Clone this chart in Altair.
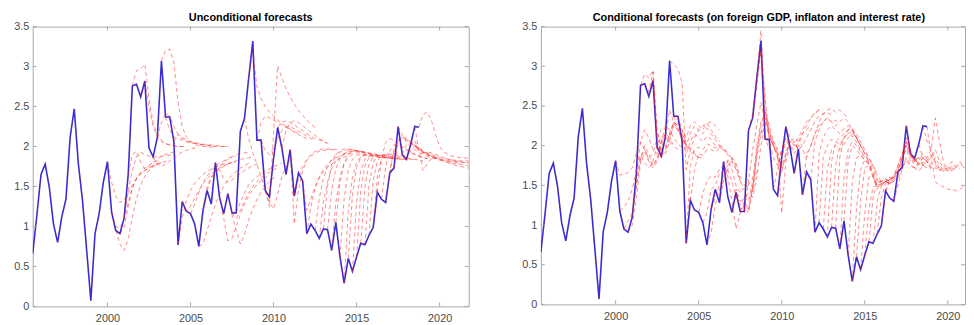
import altair as alt
import pandas as pd

START = 1995.5  # first quarter shown (1995 Q3)

# observed series, quarterly from 1995.5
actual = [0.66, 1.14, 1.65, 1.78, 1.49, 1.03, 0.80, 1.12, 1.34, 2.11,
          2.47, 1.78, 1.32, 0.70, 0.07, 0.91, 1.16, 1.55, 1.81, 1.18,
          0.95, 0.91, 1.10, 1.65, 2.76, 2.78, 2.62, 2.82, 1.98, 1.87,
          2.11, 3.07, 2.37, 2.37, 2.06, 0.77, 1.31, 1.19, 1.16, 1.03,
          0.75, 1.20, 1.45, 1.28, 1.80, 1.36, 1.16, 1.41, 1.17, 1.17,
          2.19, 2.35, 2.85, 3.32, 2.08, 2.08, 1.45, 1.37, 1.85, 2.24,
          1.98, 1.65, 1.96, 1.38, 1.67, 1.57, 0.91, 1.03, 0.95, 0.85,
          0.97, 0.96, 0.70, 1.05, 0.62, 0.29, 0.60, 0.44, 0.62, 0.79,
          0.77, 0.89, 0.99, 1.43, 1.34, 1.30, 1.67, 1.73, 2.25, 1.90,
          1.84, 2.02, 2.25, 2.24]

# unconditional forecasts: origin quarter index -> path (quarterly)
unc = {
    18: [1.81, 1.55, 1.38, 1.30, 1.33, 1.42, 1.52, 1.60, 1.66, 1.70, 1.73, 1.76, 1.78],
    19: [1.18, 1.00, 0.98, 1.10, 1.30, 1.48, 1.60, 1.68, 1.73, 1.77, 1.80, 1.82, 1.83],
    20: [0.95, 0.78, 0.70, 0.85, 1.12, 1.35, 1.52, 1.63, 1.70, 1.75, 1.78, 1.80, 1.82],
    21: [0.91, 0.98, 1.25, 1.48, 1.60, 1.66, 1.70, 1.73, 1.76, 1.78, 1.80, 1.81],
    22: [1.10, 1.45, 1.70, 1.88, 1.93, 1.90, 1.88, 1.87, 1.87, 1.88, 1.88, 1.89, 1.90],
    23: [1.65, 1.90, 1.94, 1.80, 1.72, 1.75, 1.80, 1.84, 1.88, 1.90, 1.92, 1.93],
    24: [2.76, 2.95, 2.97, 3.03, 2.60, 2.30, 2.15, 2.08, 2.04, 2.02, 2.01, 2.00, 2.00],
    26: [2.62, 2.80, 2.50, 2.25, 2.12, 2.06, 2.03, 2.02, 2.01, 2.00, 2.00, 2.00],
    29: [1.87, 1.78, 1.75, 1.78, 1.82, 1.86, 1.90, 1.93, 1.95, 1.97, 1.98, 1.99],
    30: [2.11, 2.30, 2.42, 2.38, 2.25, 2.15, 2.10, 2.07, 2.05, 2.04, 2.03, 2.02, 2.02, 2.01, 2.00],
    31: [3.07, 3.20, 3.22, 3.05, 2.55, 2.25, 2.12, 2.06, 2.03, 2.01, 2.00, 2.00, 1.99, 1.99],
    32: [2.37, 2.20, 2.12, 2.10, 2.08, 2.06, 2.05, 2.04, 2.03, 2.02, 2.01, 2.01, 2.00, 2.00, 2.00, 2.00],
    34: [2.06, 2.15, 2.12, 2.08, 2.06, 2.05, 2.04, 2.03, 2.02, 2.02, 2.01, 2.01, 2.00, 2.00],
    35: [0.77, 1.10, 1.32, 1.45, 1.54, 1.60, 1.65, 1.69, 1.72, 1.74, 1.76, 1.78, 1.79, 1.80, 1.81],
    36: [1.31, 1.20, 1.25, 1.35, 1.45, 1.53, 1.60, 1.65, 1.70, 1.73, 1.76, 1.78, 1.80],
    38: [1.16, 1.28, 1.42, 1.55, 1.63, 1.70, 1.75, 1.79, 1.82, 1.85, 1.87, 1.88],
    40: [0.75, 0.78, 0.95, 1.12, 1.28, 1.40, 1.50, 1.58, 1.64, 1.69, 1.73, 1.76, 1.79],
    41: [1.20, 1.50, 1.62, 1.68, 1.75, 1.80, 1.84, 1.87, 1.90, 1.91, 1.92, 1.93],
    42: [1.45, 1.60, 1.68, 1.72, 1.75, 1.78, 1.80, 1.82, 1.84, 1.85, 1.86, 1.87],
    44: [1.80, 1.70, 1.60, 1.55, 1.58, 1.62, 1.66, 1.70, 1.73, 1.76, 1.78, 1.80],
    45: [1.36, 1.10, 0.82, 0.85, 1.00, 1.15, 1.28, 1.38, 1.46, 1.52, 1.57, 1.61, 1.64],
    47: [1.41, 1.15, 0.95, 0.78, 0.90, 1.08, 1.22, 1.34, 1.43, 1.50, 1.56, 1.60, 1.64],
    48: [1.17, 1.10, 1.20, 1.32, 1.42, 1.50, 1.56, 1.61, 1.65, 1.68, 1.71, 1.73],
    49: [1.17, 1.30, 1.42, 1.52, 1.58, 1.62, 1.66, 1.69, 1.72, 1.75, 1.77, 1.79],
    51: [2.35, 2.10, 1.92, 1.78, 1.62, 1.45, 1.30, 1.22, 1.40, 1.62, 1.75, 1.82, 1.86],
    52: [2.85, 3.20, 2.75, 2.60, 2.50, 2.43, 2.38, 2.33, 2.29, 2.25, 2.22, 2.19, 2.16],
    54: [2.08, 2.30, 2.38, 2.36, 2.33, 2.30, 2.27, 2.24, 2.21, 2.18, 2.15, 2.12, 2.10],
    55: [2.08, 1.95, 1.90, 1.98, 2.10, 2.20, 2.25, 2.25, 2.22, 2.19, 2.16, 2.13, 2.10, 2.08],
    56: [1.45, 1.24, 2.15, 3.01, 2.86, 2.73, 2.62, 2.53, 2.45, 2.39, 2.33, 2.28, 2.24],
    59: [2.24, 2.30, 2.32, 2.30, 2.27, 2.23, 2.20, 2.16, 2.13, 2.10, 2.08, 2.06, 2.04],
    60: [1.98, 2.20, 2.30, 2.32, 2.30, 2.26, 2.22, 2.18, 2.14, 2.10, 2.07, 2.04],
    62: [1.96, 1.03, 1.45, 1.70, 1.82, 1.88, 1.92, 1.94, 1.95, 1.96, 1.96, 1.96],
    63: [1.38, 1.60, 1.75, 1.84, 1.90, 1.94, 1.96, 1.97, 1.97, 1.97, 1.96, 1.96],
    65: [1.57, 1.20, 1.35, 1.50, 1.60, 1.68, 1.74, 1.78, 1.82, 1.85, 1.87, 1.88],
    66: [0.91, 1.25, 1.48, 1.62, 1.72, 1.78, 1.83, 1.86, 1.88, 1.90, 1.91, 1.92],
    68: [0.95, 1.35, 1.60, 1.75, 1.84, 1.90, 1.93, 1.95, 1.96, 1.96, 1.95, 1.94],
    69: [0.85, 1.30, 1.56, 1.72, 1.82, 1.88, 1.91, 1.93, 1.94, 1.94, 1.93, 1.93],
    70: [0.97, 1.50, 1.78, 1.90, 1.95, 1.97, 1.97, 1.96, 1.95, 1.94, 1.93, 1.92],
    71: [0.96, 1.45, 1.72, 1.85, 1.91, 1.94, 1.95, 1.94, 1.93, 1.92, 1.91, 1.90],
    72: [0.70, 1.30, 1.62, 1.78, 1.86, 1.90, 1.92, 1.92, 1.92, 1.91, 1.90, 1.90],
    73: [1.05, 1.55, 1.80, 1.90, 1.94, 1.95, 1.94, 1.93, 1.92, 1.91, 1.90, 1.89],
    74: [0.62, 1.35, 1.70, 1.84, 1.89, 1.90, 1.90, 1.89, 1.88, 1.87, 1.86, 1.86],
    75: [0.29, 1.20, 1.62, 1.80, 1.87, 1.89, 1.89, 1.88, 1.87, 1.86, 1.86, 1.85],
    76: [0.60, 1.40, 1.74, 1.86, 1.90, 1.91, 1.90, 1.89, 1.88, 1.87, 1.86, 1.86],
    77: [0.44, 1.30, 1.70, 1.84, 1.88, 1.89, 1.88, 1.87, 1.86, 1.85, 1.85, 1.84],
    78: [0.62, 1.45, 1.76, 1.86, 1.89, 1.89, 1.88, 1.87, 1.86, 1.85, 1.84, 1.84],
    79: [0.79, 1.50, 1.78, 1.87, 1.89, 1.89, 1.88, 1.87, 1.86, 1.85, 1.84, 1.84],
    80: [0.77, 1.52, 1.80, 1.88, 1.90, 1.89, 1.88, 1.87, 1.86, 1.85, 1.84, 1.83],
    81: [0.89, 1.58, 1.82, 1.89, 1.90, 1.90, 1.89, 1.88, 1.86, 1.85, 1.84, 1.83],
    82: [0.99, 1.62, 1.85, 1.90, 1.91, 1.90, 1.89, 1.88, 1.86, 1.85, 1.84, 1.83, 1.82],
    83: [1.43, 1.85, 2.05, 2.10, 2.08, 2.04, 2.00, 1.96, 1.93, 1.90, 1.88, 1.86, 1.85],
    84: [1.34, 1.75, 1.95, 2.02, 2.02, 1.99, 1.96, 1.93, 1.90, 1.88, 1.86, 1.85, 1.84],
    85: [1.30, 1.70, 1.95, 2.08, 2.12, 2.10, 2.06, 2.02, 1.98, 1.94, 1.91, 1.88, 1.86],
    86: [1.67, 1.95, 2.08, 2.12, 2.10, 2.05, 2.00, 1.96, 1.92, 1.90, 1.88, 1.86, 1.85],
    87: [1.73, 2.05, 2.10, 2.08, 2.04, 2.00, 1.96, 1.93, 1.90, 1.88, 1.86, 1.84, 1.83, 1.82, 1.81, 1.80, 1.79],
    88: [2.25, 2.15, 2.05, 2.00, 1.96, 1.93, 1.90, 1.88, 1.86, 1.85, 1.84, 1.83, 1.82, 1.82, 1.81, 1.81, 1.80, 1.80],
    89: [1.90, 2.02, 2.05, 2.02, 1.98, 1.94, 1.90, 1.87, 1.85, 1.83, 1.81, 1.80, 1.79, 1.78, 1.78, 1.77, 1.76],
    90: [1.84, 1.95, 2.00, 1.98, 1.95, 1.92, 1.90, 1.88, 1.86, 1.85, 1.84, 1.83, 1.83, 1.82, 1.82, 1.82],
    91: [2.02, 2.08, 1.95, 1.70, 1.78, 1.85, 1.86, 1.84, 1.82, 1.80, 1.78, 1.76, 1.75, 1.74, 1.73],
    92: [2.25, 1.95, 1.92, 1.93, 1.92, 1.90, 1.88, 1.86, 1.84, 1.83, 1.82, 1.81, 1.80, 1.80],
    93: [2.24, 2.40, 2.43, 2.33, 2.15, 2.00, 1.93, 1.90, 1.88, 1.87, 1.86, 1.86, 1.85],
}

# conditional forecasts: origin quarter index -> path (quarterly)
cond = {
    18: [1.81, 1.63, 1.64, 1.66, 1.72, 1.90, 2.05, 1.95, 1.85, 1.90, 2.10, 2.20],
    19: [1.18, 1.22, 1.30, 1.45, 1.70, 1.88, 1.78, 1.72, 1.80, 2.00, 2.12, 2.05],
    20: [0.95, 1.05, 1.15, 1.50, 1.85, 1.95, 1.82, 1.75, 1.85, 2.05, 2.15, 2.10],
    21: [0.91, 1.00, 1.35, 1.78, 1.92, 1.80, 1.72, 1.80, 1.98, 2.10, 2.05, 1.98],
    22: [1.10, 1.50, 1.85, 2.00, 1.90, 1.75, 1.82, 2.02, 2.15, 2.10, 2.00, 1.95],
    23: [1.65, 2.05, 2.20, 2.10, 1.95, 1.90, 2.05, 2.25, 2.20, 2.10, 2.02, 1.98],
    24: [2.76, 2.90, 2.85, 2.95, 2.20, 1.95, 2.00, 2.15, 2.30, 2.25, 2.15, 2.05],
    25: [2.78, 2.68, 2.93, 2.10, 1.90, 1.95, 2.10, 2.25, 2.20, 2.10, 2.00, 1.95],
    26: [2.62, 2.85, 2.05, 1.85, 1.90, 2.05, 2.30, 2.25, 2.12, 2.02, 1.96, 1.92],
    28: [1.98, 1.85, 1.95, 2.15, 2.30, 2.20, 2.08, 1.98, 1.92, 1.88, 1.86],
    30: [2.11, 2.45, 2.30, 2.20, 2.10, 2.00, 1.95, 1.90, 1.85, 1.85],
    31: [3.07, 3.02, 2.97, 2.80, 1.70, 1.95, 2.10, 2.20, 2.25, 2.28, 2.30, 2.25, 2.20],
    32: [2.37, 2.28, 2.20, 2.10, 2.25, 2.30, 2.25, 2.20, 2.28, 2.20, 2.12, 2.05],
    33: [2.37, 2.20, 2.00, 2.15, 2.25, 2.20, 2.15, 2.22, 2.15, 2.08, 2.00, 1.97],
    34: [2.06, 1.90, 2.05, 2.15, 2.10, 2.05, 2.12, 2.08, 2.00, 1.98, 1.95, 1.90],
    35: [0.77, 1.75, 1.95, 1.98, 1.95, 2.02, 2.00, 1.97, 2.00, 1.98, 1.90, 1.85],
    36: [1.31, 1.70, 1.90, 1.88, 1.95, 1.95, 1.92, 1.97, 1.95, 1.88, 1.82, 1.72],
    38: [1.16, 1.40, 1.55, 1.62, 1.60, 1.70, 1.75, 1.80, 1.85, 1.78, 1.60, 1.55],
    39: [1.03, 1.15, 1.45, 1.50, 1.65, 1.68, 1.75, 1.80, 1.70, 1.55, 1.50, 1.58],
    40: [0.75, 0.90, 1.25, 1.45, 1.55, 1.70, 1.85, 1.75, 1.55, 1.45, 1.50, 1.60],
    41: [1.20, 1.35, 1.50, 1.60, 1.82, 1.70, 1.50, 1.40, 1.48, 1.50, 1.42, 1.70],
    43: [1.28, 1.55, 1.70, 1.55, 1.35, 1.25, 1.35, 1.40, 1.35, 1.60, 2.00, 2.30],
    44: [1.80, 1.62, 1.30, 0.95, 1.15, 1.25, 1.20, 1.45, 1.90, 2.20, 2.10, 1.95],
    46: [1.16, 1.45, 1.30, 1.35, 1.30, 1.55, 2.00, 2.30, 2.40, 2.25, 2.05, 1.95],
    47: [1.41, 1.20, 1.25, 1.15, 1.45, 1.95, 2.25, 2.45, 2.20, 2.00, 1.90, 1.85],
    48: [1.17, 1.30, 1.20, 1.50, 1.85, 2.15, 2.35, 2.15, 2.00, 1.92, 1.90, 1.95],
    49: [1.17, 1.55, 1.95, 2.25, 2.55, 2.30, 2.10, 2.00, 1.85, 1.75, 1.90, 2.05],
    50: [2.19, 2.40, 2.85, 3.45, 2.50, 2.10, 2.00, 1.85, 1.65, 1.90, 2.05, 2.00],
    51: [2.35, 2.75, 3.20, 2.60, 2.15, 2.05, 1.95, 1.15, 1.80, 2.00, 2.05, 1.95],
    52: [2.85, 3.20, 2.40, 2.10, 2.00, 1.90, 1.70, 1.85, 2.05, 2.10, 2.05, 2.00],
    54: [2.08, 2.05, 1.85, 1.75, 1.95, 2.10, 2.00, 1.90, 2.00, 2.15, 2.20, 2.25],
    56: [1.45, 1.70, 1.95, 2.10, 2.05, 2.00, 2.10, 2.20, 2.30, 2.35, 2.40, 2.45],
    57: [1.37, 1.85, 2.05, 2.00, 1.95, 2.05, 2.15, 2.25, 2.35, 2.42, 2.45, 2.46],
    59: [2.24, 2.10, 2.05, 1.95, 2.00, 2.10, 2.20, 2.30, 2.38, 2.40, 2.42, 2.38],
    61: [1.65, 2.00, 1.95, 1.85, 2.00, 2.15, 2.25, 2.30, 2.35, 2.30, 2.32, 2.28],
    63: [1.38, 1.90, 2.00, 2.15, 2.30, 2.40, 2.45, 2.47, 2.42, 2.45, 2.40, 2.35],
    65: [1.57, 2.05, 2.20, 2.30, 2.35, 2.30, 2.25, 2.30, 2.35, 2.30, 2.20, 2.10],
    66: [0.91, 1.90, 2.10, 2.20, 2.25, 2.20, 2.15, 2.22, 2.25, 2.20, 2.10, 2.00],
    67: [1.03, 1.85, 2.00, 2.08, 2.05, 2.02, 2.10, 2.15, 2.12, 2.05, 1.95, 1.85],
    68: [0.95, 1.70, 1.95, 2.00, 1.95, 2.02, 2.10, 2.15, 2.10, 2.00, 1.90, 1.80],
    69: [0.85, 1.80, 2.05, 2.10, 2.15, 2.20, 2.22, 2.15, 2.05, 1.95, 1.85, 1.75],
    70: [0.97, 1.75, 2.00, 2.10, 2.15, 2.18, 2.10, 2.00, 1.90, 1.80, 1.75, 1.65],
    71: [0.96, 1.85, 2.10, 2.20, 2.20, 2.10, 2.00, 1.92, 1.85, 1.75, 1.62, 1.55],
    72: [0.70, 1.60, 1.95, 2.05, 2.00, 1.92, 1.85, 1.80, 1.70, 1.58, 1.52, 1.55],
    73: [1.05, 1.80, 2.00, 1.95, 1.88, 1.82, 1.78, 1.65, 1.55, 1.50, 1.55, 1.52],
    74: [0.62, 1.55, 1.85, 1.88, 1.82, 1.75, 1.60, 1.48, 1.50, 1.55, 1.52, 1.55],
    75: [0.29, 1.20, 1.70, 1.82, 1.78, 1.65, 1.50, 1.52, 1.55, 1.53, 1.55, 1.58],
    76: [0.60, 1.30, 1.72, 1.75, 1.60, 1.45, 1.50, 1.55, 1.52, 1.55, 1.60, 1.65],
    77: [0.44, 1.15, 1.60, 1.62, 1.50, 1.55, 1.58, 1.55, 1.57, 1.62, 1.70, 1.85],
    78: [0.62, 1.20, 1.48, 1.52, 1.55, 1.55, 1.57, 1.60, 1.68, 1.85, 1.95, 1.80],
    79: [0.79, 1.35, 1.55, 1.55, 1.58, 1.55, 1.62, 1.75, 1.90, 2.00, 1.85, 1.80],
    80: [0.77, 1.30, 1.50, 1.55, 1.60, 1.60, 1.70, 1.85, 2.05, 1.90, 1.82, 1.85],
    81: [0.89, 1.35, 1.52, 1.58, 1.57, 1.68, 1.80, 2.00, 1.88, 1.80, 1.85, 1.90],
    82: [0.99, 1.40, 1.58, 1.60, 1.70, 1.82, 2.05, 1.90, 1.80, 1.82, 1.88, 1.85],
    83: [1.43, 1.55, 1.62, 1.75, 1.90, 2.10, 1.95, 1.82, 1.78, 1.85, 1.80, 1.75],
    85: [1.30, 1.50, 1.70, 1.85, 1.75, 1.72, 1.80, 1.78, 1.85, 1.95, 1.80, 1.72],
    87: [1.73, 1.80, 1.75, 1.72, 1.78, 1.75, 1.82, 1.88, 1.78, 1.70, 1.68, 1.72],
    88: [2.25, 1.90, 1.80, 1.85, 1.75, 1.80, 1.70, 1.72, 1.68, 1.75, 1.70, 1.74],
    89: [1.90, 1.72, 1.68, 1.75, 1.72, 1.78, 1.85, 1.75, 1.70, 1.68, 1.72, 1.70],
    90: [1.84, 1.75, 1.85, 1.80, 1.72, 1.75, 1.70, 1.68, 1.72, 1.80, 1.72, 1.70],
    91: [2.02, 1.85, 1.80, 1.85, 1.95, 1.80, 1.72, 1.70, 1.68, 1.72, 1.78, 1.72],
    92: [2.25, 2.05, 1.95, 2.35, 2.05, 1.78, 1.72, 1.70, 1.75, 1.80, 1.72, 1.70],
    93: [2.24, 1.85, 1.55, 1.50, 1.48, 1.45, 1.45, 1.43, 1.45, 1.50, 1.45, 1.45],
}

x_ticks = [2000, 2005, 2010, 2015, 2020]
y_ticks = [0, 0.5, 1, 1.5, 2, 2.5, 3, 3.5]
titles = ["Unconditional forecasts",
          "Conditional forecasts (on foreign GDP, inflaton and interest rate)"]

BLUE = "#3a2cd0"
RED = "#ff1a1a"
FRAME = "#a8a8a8"
LABEL = "#4a4a4a"
FONT = "Liberation Sans"
PX_PER_YEAR = 16.8
FULL_WIDTH = 441


def quarter(i):
    return START + i / 4


act_df = pd.DataFrame({"t": [quarter(i) for i in range(len(actual))], "v": actual})


def fc_frame(paths):
    rows = []
    for o, vals in paths.items():
        for j, v in enumerate(vals):
            rows.append({"id": o, "t": quarter(o + j), "v": v})
    return pd.DataFrame(rows)


def panel(fc_df, title, width, height):
    xmax = START + width / PX_PER_YEAR
    xs = alt.Scale(domain=[START, xmax], nice=False, zero=False)
    ys = alt.Scale(domain=[0, 3.5], nice=False)
    xaxis = alt.Axis(values=x_ticks, format="d", title=None, grid=False, ticks=False,
                     domain=False, labelFont=FONT, labelFontSize=11, labelColor=LABEL,
                     labelPadding=6)
    yaxis = alt.Axis(values=y_ticks, format="~g", title=None, grid=False, ticks=False,
                     domain=False, labelFont=FONT, labelFontSize=11, labelColor=LABEL,
                     labelPadding=4)
    X = alt.X("t:Q", scale=xs, axis=xaxis)
    Y = alt.Y("v:Q", scale=ys, axis=yaxis)
    act = alt.Chart(act_df).mark_line(color=BLUE, strokeWidth=1.6, clip=True).encode(x=X, y=Y)
    fc = alt.Chart(fc_df).mark_line(color=RED, opacity=0.5, strokeWidth=1,
                                    strokeDash=[4, 3], clip=True).encode(x=X, y=Y, detail="id:N")
    xt = pd.DataFrame({"t": x_ticks})
    yt = pd.DataFrame({"v": y_ticks})
    tick_b = alt.Chart(xt).mark_rule(color=FRAME).encode(
        x=X, y=alt.value(height), y2=alt.value(height - 4))
    tick_t = alt.Chart(xt).mark_rule(color=FRAME).encode(
        x=X, y=alt.value(0), y2=alt.value(4))
    tick_l = alt.Chart(yt).mark_rule(color=FRAME).encode(
        y=Y, x=alt.value(0), x2=alt.value(4))
    tick_r = alt.Chart(yt).mark_rule(color=FRAME).encode(
        y=Y, x=alt.value(width), x2=alt.value(width - 4))
    ttl = alt.Chart(pd.DataFrame({"title": [title]})).mark_text(
        font=FONT, fontSize=11, fontWeight="bold", color="#000000",
        align="center", baseline="alphabetic",
    ).encode(text="title:N", x=alt.value(FULL_WIDTH / 2), y=alt.value(-6))
    return alt.layer(act, fc, tick_b, tick_t, tick_l, tick_r, ttl).properties(
        width=width, height=height)


left = panel(fc_frame(unc), titles[0], FULL_WIDTH, 283)
right = panel(fc_frame(cond), titles[1], 429, 281)

chart = alt.hconcat(left, right, spacing=52).properties(
    padding={"left": 5, "top": 1, "right": 0, "bottom": 0},
    background="white",
).configure_view(stroke=FRAME, strokeWidth=1)

chart.save("out.html", embed_options={"renderer": "svg", "actions": False})
